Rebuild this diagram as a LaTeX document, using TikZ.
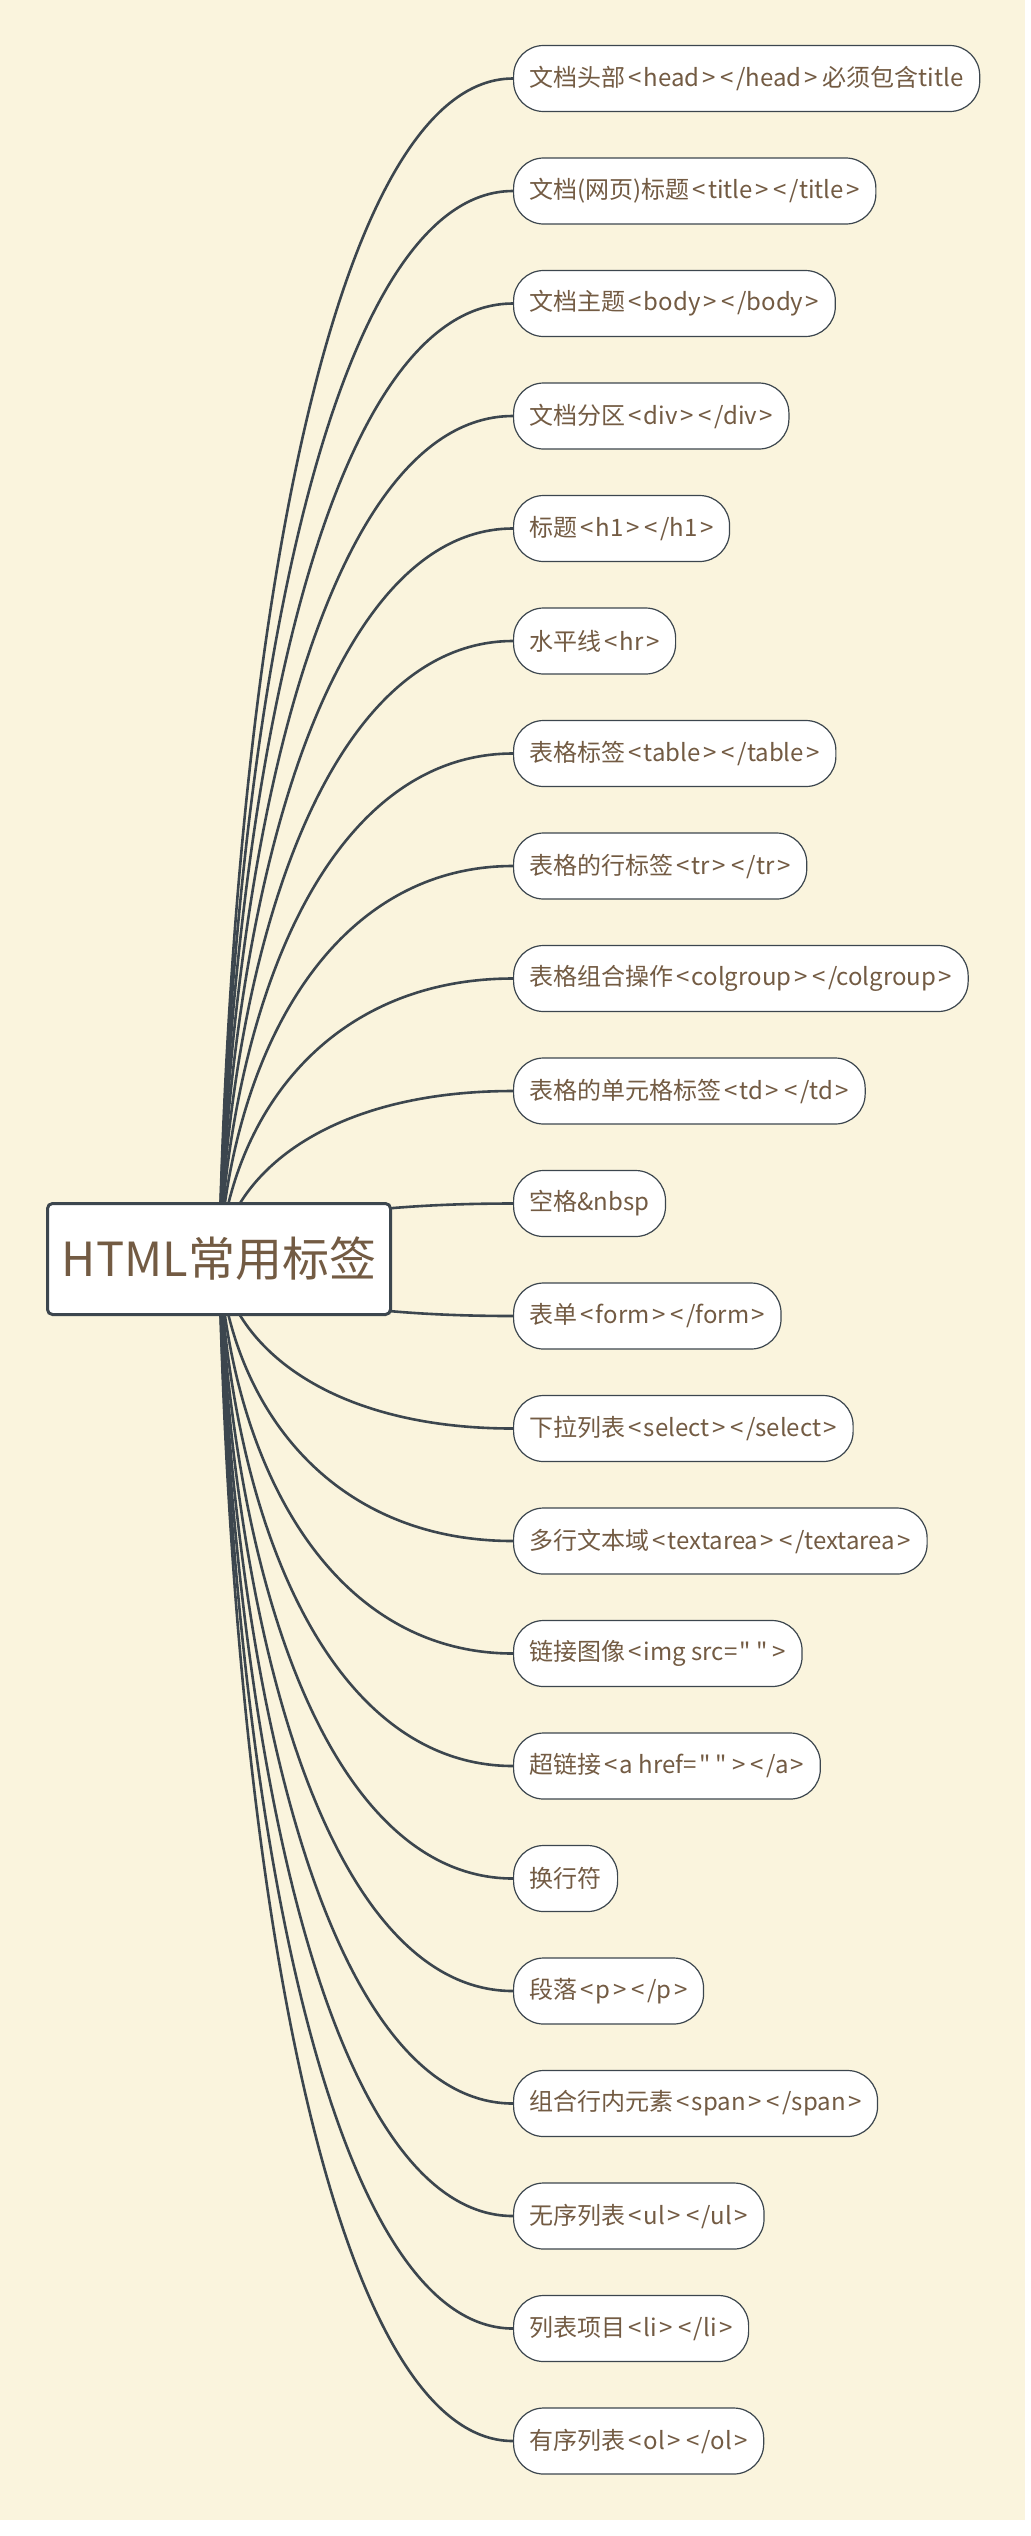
\documentclass[tikz,border=0pt]{standalone}
\usepackage{fontspec}
\setmainfont{Noto Sans CJK SC}[Ligatures=TeXOff]
\usetikzlibrary{positioning, calc, backgrounds}

\definecolor{paper}{HTML}{FAF4DD}
\definecolor{inkline}{HTML}{3C464E}
\definecolor{labelbrown}{HTML}{735B43}

% wider side bearings round < > and " as in the original font
\XeTeXinterchartokenstate=1
\chardef\anglecls=10
\XeTeXcharclass`\<=\anglecls
\XeTeXcharclass`\>=\anglecls
\XeTeXcharclass`\"=\anglecls
\XeTeXinterchartoks 0 \anglecls = {\kern2.5pt}
\XeTeXinterchartoks 1 \anglecls = {\kern2.5pt}
\XeTeXinterchartoks 3 \anglecls = {\kern2.5pt}
\XeTeXinterchartoks \anglecls 0 = {\kern2.5pt}
\XeTeXinterchartoks \anglecls 1 = {\kern2.5pt}
\XeTeXinterchartoks \anglecls \anglecls = {\kern5pt}

\begin{document}
\begin{tikzpicture}[x=1pt, y=-1pt, node distance=112.5pt, font=\fontsize{24}{28}\selectfont,
          hubbox/.style={rectangle, draw=inkline, fill=white, line width=3pt, rounded corners=5pt, minimum width=343pt, minimum height=111pt, text=labelbrown, font=\fontsize{47}{56}\selectfont},
          tagbox/.style={rectangle, draw=inkline, fill=white, line width=1.2pt, rounded corners=30pt, minimum height=66pt, inner xsep=16pt, text=labelbrown, anchor=west},
          branch/.style={draw=inkline, line width=2.6pt, to path={let \p1=(\tikztostart), \p2=(\tikztotarget) in
            .. controls ({\x1+0.05*(\x2-\x1)}, {\y1+0.55*(\y2-\y1)}) and ({\x1+0.4*(\x2-\x1)}, \y2) .. (\tikztotarget)}}]
        \useasboundingbox (0,0) rectangle (1031,2536);
        \begin{scope}[on background layer]
          \fill [paper] (0,0) rectangle (1025,2520);
        \end{scope}

        \node [hubbox] (hub) at (219,1259) {HTML常用标签};

        \node [tagbox] (t1) at (513,78.5) {文档头部<head></head> 必须包含title};
        \node [tagbox, below=of t1.west, anchor=west] (t2) {文档(网页)标题<title></title>};
        \node [tagbox, below=of t2.west, anchor=west] (t3) {文档主题<body></body>};
        \node [tagbox, below=of t3.west, anchor=west] (t4) {文档分区<div></div>};
        \node [tagbox, below=of t4.west, anchor=west] (t5) {标题<h1></h1>};
        \node [tagbox, below=of t5.west, anchor=west] (t6) {水平线<hr>};
        \node [tagbox, below=of t6.west, anchor=west] (t7) {表格标签<table></table>};
        \node [tagbox, below=of t7.west, anchor=west] (t8) {表格的行标签<tr></tr>};
        \node [tagbox, below=of t8.west, anchor=west] (t9) {表格组合操作<colgroup></colgroup>};
        \node [tagbox, below=of t9.west, anchor=west] (t10) {表格的单元格标签<td></td>};
        \node [tagbox, below=of t10.west, anchor=west] (t11) {空格\&nbsp};
        \node [tagbox, below=of t11.west, anchor=west] (t12) {表单<form></form>};
        \node [tagbox, below=of t12.west, anchor=west] (t13) {下拉列表<select></select>};
        \node [tagbox, below=of t13.west, anchor=west] (t14) {多行文本域<textarea></textarea>};
        \node [tagbox, below=of t14.west, anchor=west] (t15) {链接图像<img src="">};
        \node [tagbox, below=of t15.west, anchor=west] (t16) {超链接<a href=""></a>};
        \node [tagbox, below=of t16.west, anchor=west] (t17) {换行符};
        \node [tagbox, below=of t17.west, anchor=west] (t18) {段落<p></p>};
        \node [tagbox, below=of t18.west, anchor=west] (t19) {组合行内元素<span></span>};
        \node [tagbox, below=of t19.west, anchor=west] (t20) {无序列表<ul></ul>};
        \node [tagbox, below=of t20.west, anchor=west] (t21) {列表项目<li></li>};
        \node [tagbox, below=of t21.west, anchor=west] (t22) {有序列表<ol></ol>};

        \begin{scope}[on background layer]
          \draw [branch] (hub.center) to (t1.west);
          \draw [branch] (hub.center) to (t2.west);
          \draw [branch] (hub.center) to (t3.west);
          \draw [branch] (hub.center) to (t4.west);
          \draw [branch] (hub.center) to (t5.west);
          \draw [branch] (hub.center) to (t6.west);
          \draw [branch] (hub.center) to (t7.west);
          \draw [branch] (hub.center) to (t8.west);
          \draw [branch] (hub.center) to (t9.west);
          \draw [branch] (hub.center) to (t10.west);
          \draw [branch] (hub.center) to (t11.west);
          \draw [branch] (hub.center) to (t12.west);
          \draw [branch] (hub.center) to (t13.west);
          \draw [branch] (hub.center) to (t14.west);
          \draw [branch] (hub.center) to (t15.west);
          \draw [branch] (hub.center) to (t16.west);
          \draw [branch] (hub.center) to (t17.west);
          \draw [branch] (hub.center) to (t18.west);
          \draw [branch] (hub.center) to (t19.west);
          \draw [branch] (hub.center) to (t20.west);
          \draw [branch] (hub.center) to (t21.west);
          \draw [branch] (hub.center) to (t22.west);
        \end{scope}
      \end{tikzpicture}
\end{document}
